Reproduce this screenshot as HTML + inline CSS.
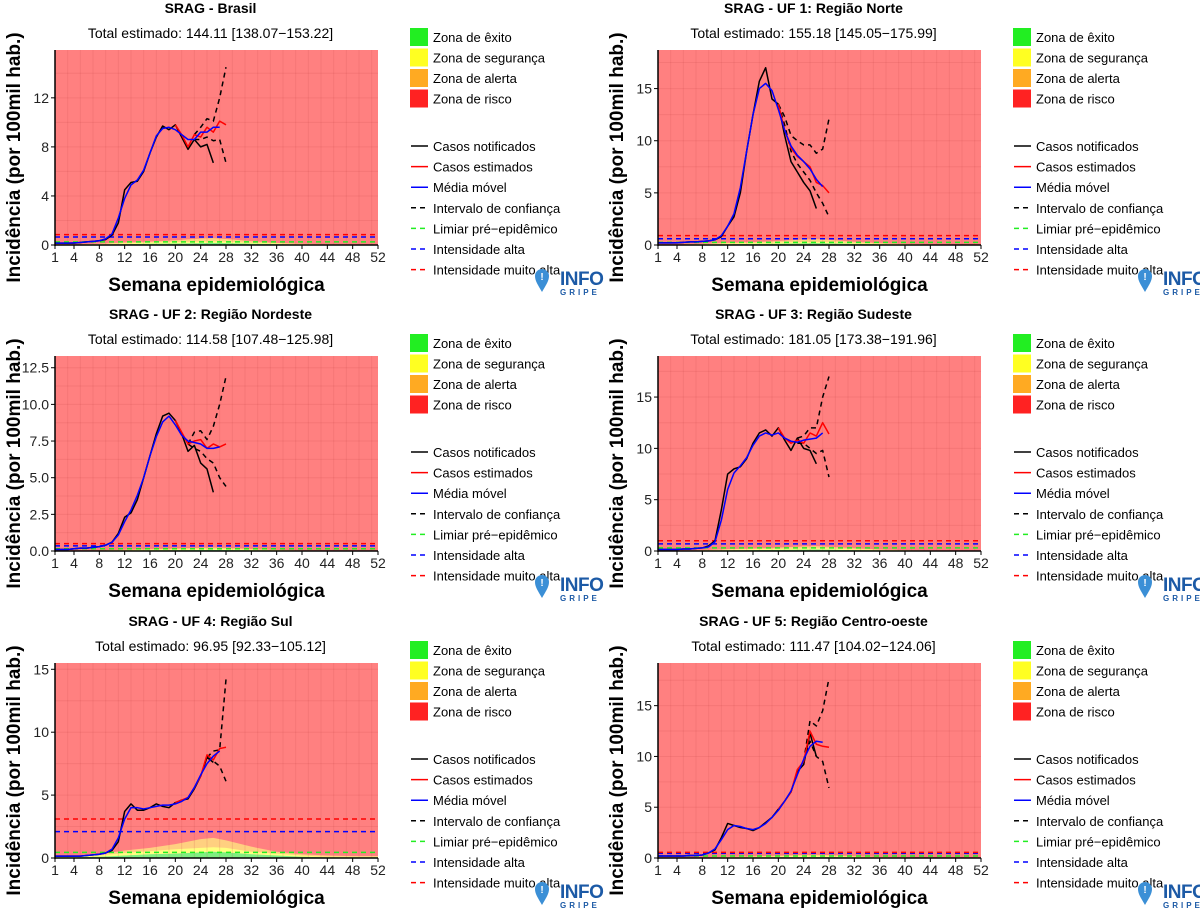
<!DOCTYPE html>
<html><head><meta charset="utf-8"><style>
html,body{margin:0;padding:0;background:#fff;}
svg{display:block;font-family:"Liberation Sans",Arial,sans-serif;}
</style></head><body>
<svg id="chart" width="1200" height="911" viewBox="0 0 1200 911" xmlns="http://www.w3.org/2000/svg"></svg>
<script>
// ---- data ----
const panelTitles = ["SRAG - Brasil","SRAG - UF 1: Região Norte","SRAG - UF 2: Região Nordeste","SRAG - UF 3: Região Sudeste","SRAG - UF 4: Região Sul","SRAG - UF 5: Região Centro-oeste"];
const panelTotals = ["Total estimado: 144.11 [138.07\u2212153.22]","Total estimado: 155.18 [145.05\u2212175.99]","Total estimado: 114.58 [107.48\u2212125.98]","Total estimado: 181.05 [173.38\u2212191.96]","Total estimado: 96.95 [92.33\u2212105.12]","Total estimado: 111.47 [104.02\u2212124.06]"];
const yTicks = [[0,4,8,12],[0,5,10,15],[0,2.5,5,7.5,10,12.5],[0,5,10,15],[0,5,10,15],[0,5,10,15]];
const yTickLabels = [["0","4","8","12"],["0","5","10","15"],["0.0","2.5","5.0","7.5","10.0","12.5"],["0","5","10","15"],["0","5","10","15"],["0","5","10","15"]];
const yMax = [15.9,18.7,13.3,19.0,15.5,19.2];
const xTicks = [1,4,8,12,16,20,24,28,32,36,40,44,48,52];
const notified = [
 [.15,.15,.15,.15,.2,.25,.3,.35,.45,.8,1.8,4.5,5.1,5.2,6,7.5,8.8,9.7,9.4,9.8,8.8,7.8,8.6,8.0,8.2,6.7],
 [.2,.2,.2,.2,.25,.3,.3,.35,.4,.5,.8,1.8,2.7,5,9,12.5,15.7,17,14,13.5,10.5,8,7,6,5.2,3.5],
 [.1,.1,.1,.15,.2,.2,.25,.3,.4,.6,1.2,2.3,2.6,3.5,5,6.5,8,9.2,9.4,8.9,8,6.8,7.2,6,5.6,4.0],
 [.15,.15,.15,.15,.2,.2,.25,.3,.5,1,4,7.5,8,8.2,9,10.5,11.5,11.8,11.2,12,10.8,9.8,11,10,9.8,8.5],
 [.15,.15,.15,.15,.15,.2,.25,.3,.4,.6,1.3,3.7,4.3,3.8,3.8,4,4.3,4.1,4.0,4.4,4.6,4.7,5.5,6.5,8.0,7.6],
 [.2,.2,.2,.2,.2,.25,.25,.3,.5,.8,2,3.4,3.2,3.0,2.9,2.7,3,3.5,4,4.8,5.6,6.5,8.5,9.2,12.3,10]
];
const estStart = [20,20,20,20,20,20];
const estimated = [
 [9.8,9.0,8.0,9.0,8.8,9.6,9.2,10.1,9.8],
 [13.5,11,9.3,8.5,8,7.5,6,5.7,5.0],
 [8.9,8.1,7.3,7.5,7.6,7.0,7.3,7.1,7.3],
 [12,11,10.5,10.8,10.5,11.5,11.2,12.5,11.4],
 [4.4,4.6,4.8,5.6,6.5,8.2,7.8,8.7,8.8],
 [4.8,5.6,6.5,8.7,9.5,12.5,11.2,11.0,10.9]
];
const movingAvg = [
 [.15,.15,.15,.17,.2,.25,.3,.35,.5,.9,2.2,3.8,4.9,5.3,6.1,7.5,8.9,9.5,9.6,9.4,9.0,8.6,8.6,9.2,9.2,9.6,9.6],
 [.2,.2,.2,.22,.25,.3,.3,.35,.4,.5,.9,1.8,3,5.5,9,12.5,15,15.5,14.8,13,11,9.5,8.6,8,7.3,6.3,5.6],
 [.1,.1,.1,.15,.2,.2,.25,.3,.4,.6,1.1,2.0,2.8,3.8,5.0,6.5,7.8,8.8,9.2,8.6,7.9,7.5,7.4,7.3,7.0,7.0,7.1],
 [.15,.15,.15,.15,.2,.2,.25,.3,.4,.9,3,6,7.6,8.3,9.1,10.3,11.2,11.5,11.3,11.5,11,10.7,10.6,10.8,10.9,11,11.5],
 [.15,.15,.15,.15,.15,.2,.25,.3,.4,.7,1.6,3.1,4.0,4.0,3.9,4.0,4.1,4.2,4.2,4.3,4.5,4.8,5.6,6.6,7.5,8.1,8.5],
 [.2,.2,.2,.2,.2,.25,.25,.3,.5,.9,1.8,2.8,3.2,3.1,2.9,2.8,3.0,3.4,4.0,4.7,5.6,6.6,8.2,9.7,11,11.5,11.4]
];
const ciStart = [23,20,22,23,25,24];
const ciHigh = [
 [9.0,9.6,10.3,10.1,12.0,14.5],
 [13.5,12.3,10.5,10,9.6,9.6,8.8,9.2,12.1],
 [7.3,8.1,8.2,7.6,8.5,10,11.9],
 [11,11.2,12,12,15,17],
 [8.0,8.5,8.6,14.2],
 [9.5,13.5,13,14.5,17.7]
];
const ciLow = [
 [8.6,8.6,8.8,8.5,8.6,6.7],
 [13.5,11.5,9.0,7.8,7.0,6.2,5.0,4.0,2.7],
 [7.3,7.0,6.8,6.3,6.0,5.0,4.4],
 [10.5,10.5,10,9.5,9.8,7.2],
 [8.0,7.7,7.3,6.1],
 [9.5,11.5,10,9.5,6.9]
];
const preEpi = [.25,.25,.15,.3,.45,.2];
const highInt = [.65,.6,.35,.7,2.1,.45];
const veryHighInt = [.85,.9,.5,1.0,3.1,.55];
const zoneWeeks = [1,4,8,12,16,20,24,26,28,32,36,40,44,48,52];
const zoneScale = [0.35,0.35,0.15,0.3,1,0.2];
const zoneGreen = [.05,.05,.1,.2,.3,.35,.45,.5,.45,.3,.2,.1,.05,.05,.05];
const zoneYellow = [.1,.1,.2,.4,.55,.7,.8,.85,.8,.5,.35,.2,.1,.1,.1];
const zoneOrange = [.15,.15,.3,.6,.8,1.1,1.5,1.6,1.4,.9,.5,.3,.2,.15,.15];
const legendZones = [["Zona de êxito","#22ee22"],["Zona de segurança","#ffff22"],["Zona de alerta","#ffaa22"],["Zona de risco","#ff2222"]];
const legendLines = [["Casos notificados","#000",false],["Casos estimados","#ff0000",false],["Média móvel","#0000ff",false],["Intervalo de confiança","#000",true],["Limiar pré\u2212epidêmico","#22ee22",true],["Intensidade alta","#0000ff",true],["Intensidade muito alta","#ff0000",true]];

// ---- layout ----
const NS="http://www.w3.org/2000/svg";
const svg=document.getElementById('chart');
function mk(tag,attrs,parent,text){const e=document.createElementNS(NS,tag);for(const k in attrs)e.setAttribute(k,attrs[k]);if(text!==undefined)e.textContent=text;(parent||svg).appendChild(e);return e;}
const panels=[[0,0],[603,0],[0,306],[603,306],[0,613],[603,613]];
const legendNames=["zona-exito","zona-seguranca","zona-alerta","zona-risco"];
const lineNames=["casos-notificados","casos-estimados","media-movel","intervalo-confianca","limiar-pre-epidemico","intensidade-alta","intensidade-muito-alta"];

panels.forEach(([ox,oy],p)=>{
  const g=mk('g',{});
  
  
  const L=55+ox, R=378+ox, T=50+oy, B=245+oy;
  const xs=w=>L+(w-1)*(R-L)/51;
  const ys=v=>B-v*(B-T)/yMax[p];
  let t=mk('text',{x:(L+R)/2-6,y:13+oy,'text-anchor':'middle','font-size':14,'font-weight':'bold'},g,panelTitles[p]);
  
  t=mk('text',{x:(L+R)/2-6,y:38+oy,'text-anchor':'middle','font-size':14},g,panelTotals[p]);
  
  const bg=mk('rect',{x:L,y:T,width:R-L,height:B-T,fill:'#ff8080'},g);
  
  // zones
  const zpath=(arr)=>{let d='M'+xs(zoneWeeks[0])+' '+B;zoneWeeks.forEach((w,i)=>d+=' L'+xs(w)+' '+ys(arr[i]*zoneScale[p]));return d+' L'+xs(52)+' '+B+' Z';};
  [[zoneOrange,'#ffd080','zona-alerta-area'],[zoneYellow,'#ffff80','zona-seguranca-area'],[zoneGreen,'#80ee80','zona-exito-area']].forEach(([a,c,n])=>{const z=mk('path',{d:zpath(a),fill:c},g);});
  // grid
  for(let w=1;w<=52;w+=2){mk('line',{x1:xs(w),x2:xs(w),y1:T,y2:B,stroke:'rgba(200,70,70,0.18)','stroke-width':1},g);}
  const step=yTicks[p][1]/2;
  for(let v=0;v<=yMax[p];v+=step){mk('line',{x1:L,x2:R,y1:ys(v),y2:ys(v),stroke:'rgba(200,70,70,0.18)','stroke-width':1},g);}
  // thresholds
  [[preEpi,'#22ee22','limiar-pre-epidemico'],[highInt,'#0000ff','intensidade-alta'],[veryHighInt,'#ff0000','intensidade-muito-alta']].forEach(([a,c,n])=>{const l=mk('line',{x1:L,x2:R,y1:ys(a[p]),y2:ys(a[p]),stroke:c,'stroke-width':1.5,'stroke-dasharray':'5,4'},g);});
  const poly=(arr,start,c,dash,n)=>{const pts=arr.map((v,i)=>xs(start+i)+','+ys(v)).join(' ');const a={points:pts,fill:'none',stroke:c,'stroke-width':1.5,'stroke-linejoin':'round'};if(dash)a['stroke-dasharray']='5,4';const e=mk('polyline',a,g);};
  poly(ciHigh[p],ciStart[p],'#000',true,'ci-upper-line');
  poly(ciLow[p],ciStart[p],'#000',true,'ci-lower-line');
  poly(notified[p],1,'#000',false,'notified-cases-line');
  poly(estimated[p],estStart[p],'#ff0000',false,'estimated-cases-line');
  poly(movingAvg[p],1,'#0000ff',false,'moving-average-line');
  // axes
  let a=mk('line',{x1:L,x2:L,y1:T,y2:B+1,stroke:'#000','stroke-width':1.5},g);
  a=mk('line',{x1:L,x2:R,y1:B,y2:B,stroke:'#000','stroke-width':1.5},g);
  yTicks[p].forEach((v,i)=>{mk('line',{x1:L-4,x2:L,y1:ys(v),y2:ys(v),stroke:'#000'},g);const tl=mk('text',{x:L-6,y:ys(v)+5,'text-anchor':'end','font-size':14,fill:'#222'},g,yTickLabels[p][i]);});
  xTicks.forEach(w=>{mk('line',{x1:xs(w),x2:xs(w),y1:B,y2:B+4,stroke:'#000'},g);const tl=mk('text',{x:xs(w),y:B+17,'text-anchor':'middle','font-size':14,fill:'#222'},g,String(w));});
  t=mk('text',{x:(L+R)/2,y:B+46,'text-anchor':'middle','font-size':19,'font-weight':'bold'},g,'Semana epidemiológica');
  
  t=mk('text',{x:0,y:0,'text-anchor':'middle','font-size':19,'font-weight':'bold',transform:`translate(${ox+20},${(T+B)/2+10}) rotate(-90)`},g,'Incidência (por 100mil hab.)');
  
  // legend
  const lx=410+ox;
  legendZones.forEach(([lab,c],i)=>{const y=28+oy+i*20.5;const it=mk('g',{},g);mk('rect',{x:lx,y:y,width:18,height:18,fill:c},it);mk('text',{x:lx+23,y:y+14,'font-size':13},it,lab);});
  legendLines.forEach(([lab,c,d],i)=>{const y=146+oy+i*20.6;const it=mk('g',{},g);const la={x1:lx+1,x2:lx+18,y1:y,y2:y,stroke:c,'stroke-width':1.5};if(d)la['stroke-dasharray']='5,4';mk('line',la,it);mk('text',{x:lx+23,y:y+5,'font-size':13},it,lab);});
  // logo
  const lg=mk('g',{},g);
  const px=542+ox,py=278+oy;
  mk('path',{d:`M${px} ${py+14} C${px-4} ${py+7} ${px-7} ${py+3} ${px-7} ${py-2} A7 7 0 0 1 ${px+7} ${py-2} C${px+7} ${py+3} ${px+4} ${py+7} ${px} ${py+14} Z`,fill:'#3b8fd6'},lg);
  mk('text',{x:px,y:py+2,'text-anchor':'middle','font-size':10,'font-weight':'bold',fill:'#fff'},lg,'!');
  mk('text',{x:560+ox,y:285+oy,'font-size':19,'font-weight':'bold',fill:'#1c5aa6','letter-spacing':'-0.5'},lg,'INFO');
  mk('text',{x:560+ox,y:295+oy,'font-size':8,'font-weight':'bold',fill:'#1c5aa6','letter-spacing':'3'},lg,'GRIPE');
});
</script>
</body></html>
